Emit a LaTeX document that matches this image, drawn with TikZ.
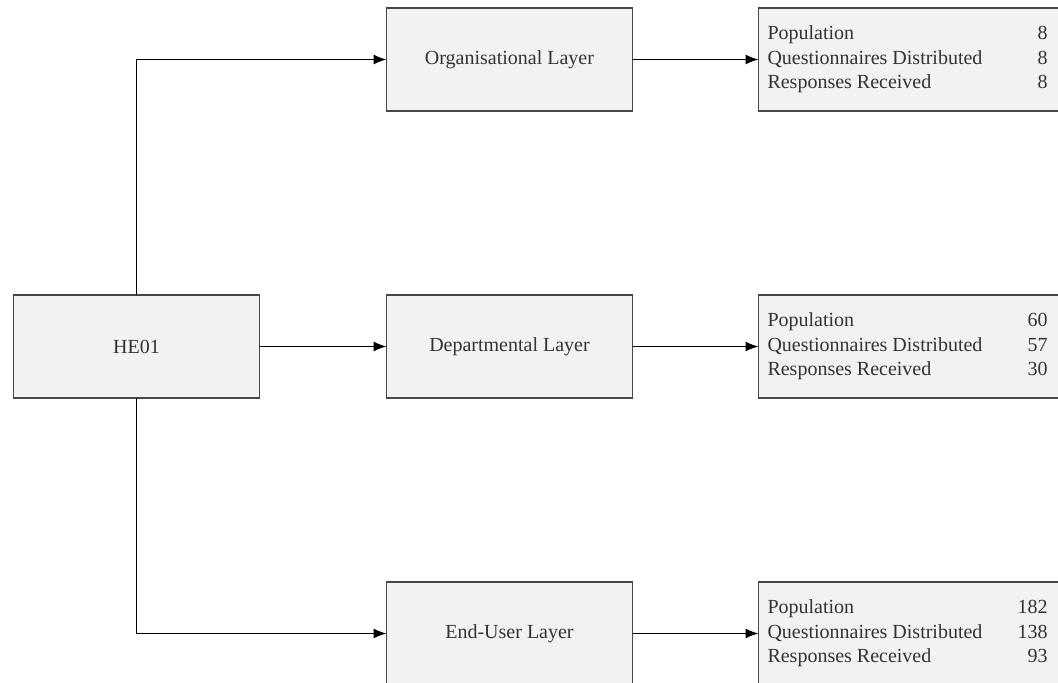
\documentclass[tikz,border=0pt]{standalone}
\usepackage{fontspec}
\setmainfont{Liberation Serif}
\usetikzlibrary{arrows.meta, positioning}
\definecolor{boxfill}{HTML}{F2F2F2}
\definecolor{boxline}{HTML}{474747}
\definecolor{boxtext}{HTML}{333333}

\newcommand{\statlines}[3]{%
  \begin{tabular*}{280pt}{@{}l@{\extracolsep{\fill}}r@{}}
    Population & #1\\
    Questionnaires Distributed & #2\\
    Responses Received & #3
  \end{tabular*}\hspace*{24pt}}

\begin{document}
\begin{tikzpicture}[x=1pt,y=1pt,node distance=126pt,
  layer/.style={draw=boxline,fill=boxfill,line width=1.4pt,outer sep=0pt,
    minimum width=246pt,minimum height=103pt,text=boxtext,
    font=\fontsize{20}{24.5}\selectfont},
  stats/.style={layer,inner xsep=9pt,inner ysep=0pt},
  link/.style={-{Latex[length=13pt,width=10pt]},line width=1.3pt}]
  \useasboundingbox (0,0) rectangle (1058,-683);
  \clip (0,0) rectangle (1058,-683);

  \node[layer] (he01) at (136.5,-346.5) {HE01};
  \node[layer] (dept) [right=127pt of he01] {Departmental Layer};
  \node[layer] (org)  [above=184pt of dept] {Organisational Layer};
  \node[layer] (user) [below=184pt of dept] {End-User Layer};

  \node[stats] (orgstats)  [right=of org]  {\statlines{8}{8}{8}};
  \node[stats] (deptstats) [right=of dept] {\statlines{60}{57}{30}};
  \node[stats] (userstats) [right=of user] {\statlines{182}{138}{93}};

  \draw[link] (he01) |- (org);
  \draw[link] (he01) -- (dept);
  \draw[link] (he01) |- (user);
  \draw[link] (org) -- (orgstats);
  \draw[link] (dept) -- (deptstats);
  \draw[link] (user) -- (userstats);
\end{tikzpicture}
\end{document}
